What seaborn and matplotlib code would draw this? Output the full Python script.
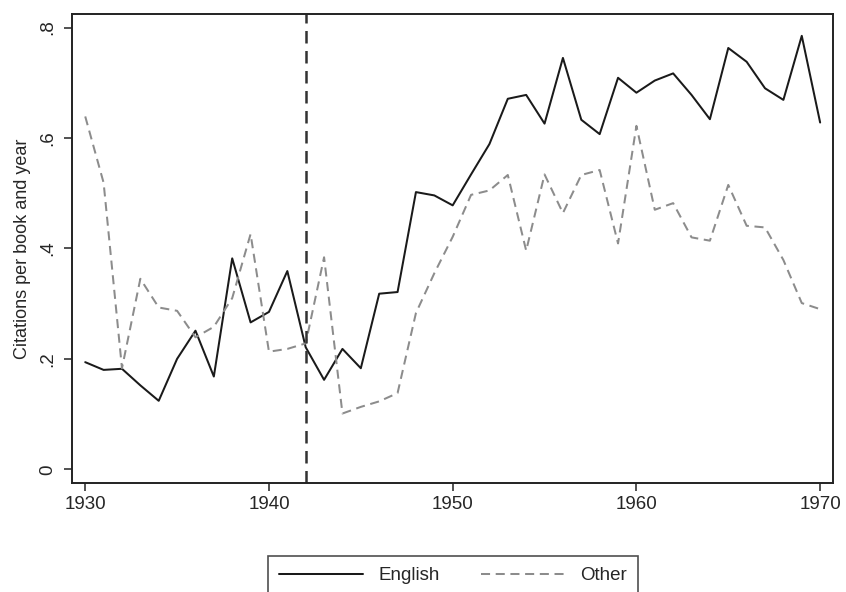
import numpy as np
import pandas as pd
import matplotlib
matplotlib.use("Agg")
import matplotlib.pyplot as plt
import seaborn as sns

years = list(range(1930, 1971))
english = [0.194, 0.180, 0.182, 0.152, 0.124, 0.200, 0.251, 0.168, 0.382, 0.266,
           0.285, 0.359, 0.221, 0.162, 0.218, 0.183, 0.318, 0.321, 0.502, 0.496,
           0.478, 0.534, 0.589, 0.671, 0.678, 0.626, 0.745, 0.633, 0.607, 0.709,
           0.682, 0.704, 0.717, 0.678, 0.634, 0.763, 0.738, 0.690, 0.669, 0.785,
           0.628]
other = [0.639, 0.519, 0.183, 0.345, 0.293, 0.287, 0.239, 0.258, 0.310, 0.426,
         0.213, 0.218, 0.228, 0.384, 0.101, 0.113, 0.123, 0.138, 0.283, 0.355,
         0.421, 0.497, 0.505, 0.533, 0.396, 0.534, 0.464, 0.533, 0.542, 0.409,
         0.622, 0.470, 0.482, 0.420, 0.414, 0.515, 0.441, 0.438, 0.379, 0.301,
         0.290]
series_names = ["English", "Other"]
cutoff_year = 1942
x_ticks = [1930, 1940, 1950, 1960, 1970]
y_ticks = [0, 0.2, 0.4, 0.6, 0.8]
y_tick_labels = ["0", ".2", ".4", ".6", ".8"]
y_label = "Citations per book and year"

df = pd.DataFrame({
    "year": years * 2,
    "value": english + other,
    "lang": ["English"] * len(years) + ["Other"] * len(years),
})

sns.set_style("white")
plt.rcParams["font.family"] = ["Liberation Sans", "DejaVu Sans"]

fig = plt.figure(figsize=(8.46, 5.92), dpi=100)
ax = fig.add_axes([72 / 846, 1 - 482.7 / 592, (833 - 72) / 846, (482.7 - 14.3) / 592])

sns.lineplot(data=df, x="year", y="value", hue="lang", style="lang",
             palette={"English": "#1a1a1a", "Other": "#8c8c8c"},
             dashes={"English": "", "Other": (4.5, 2.8)},
             linewidth=1.45, legend=False, ax=ax)

ax.axvline(cutoff_year, color="#333333", linewidth=1.8, linestyle=(0, (5, 3)))

ax.set_xlim(1929.28, 1970.70)
ax.set_ylim(-0.0243, 0.824)
ax.set_xticks(x_ticks)
ax.set_yticks(y_ticks)
ax.set_yticklabels(y_tick_labels, rotation=90, va="center")
ax.set_xlabel("")
ax.set_ylabel(y_label, fontsize=13, labelpad=6)
ax.tick_params(axis="both", which="both", direction="out", length=6, width=1.2,
               color="#333333", labelsize=13.5, left=True, bottom=True)
ax.tick_params(axis="y", pad=5)
for sp in ax.spines.values():
    sp.set_color("#222222")
    sp.set_linewidth(1.4)
ax.grid(False)

lines = ax.get_lines()[:2]
leg = fig.legend(lines, series_names, loc="upper center",
                 bbox_to_anchor=(453 / 846, 1 - 556 / 592), ncol=2,
                 borderaxespad=0.0,
                 frameon=True, fancybox=False, edgecolor="#222222",
                 fontsize=13.5, handlelength=4.5, columnspacing=2.2,
                 handletextpad=0.8, borderpad=0.6)
leg.get_frame().set_linewidth(1.2)

fig.savefig("out.png", dpi=100)
